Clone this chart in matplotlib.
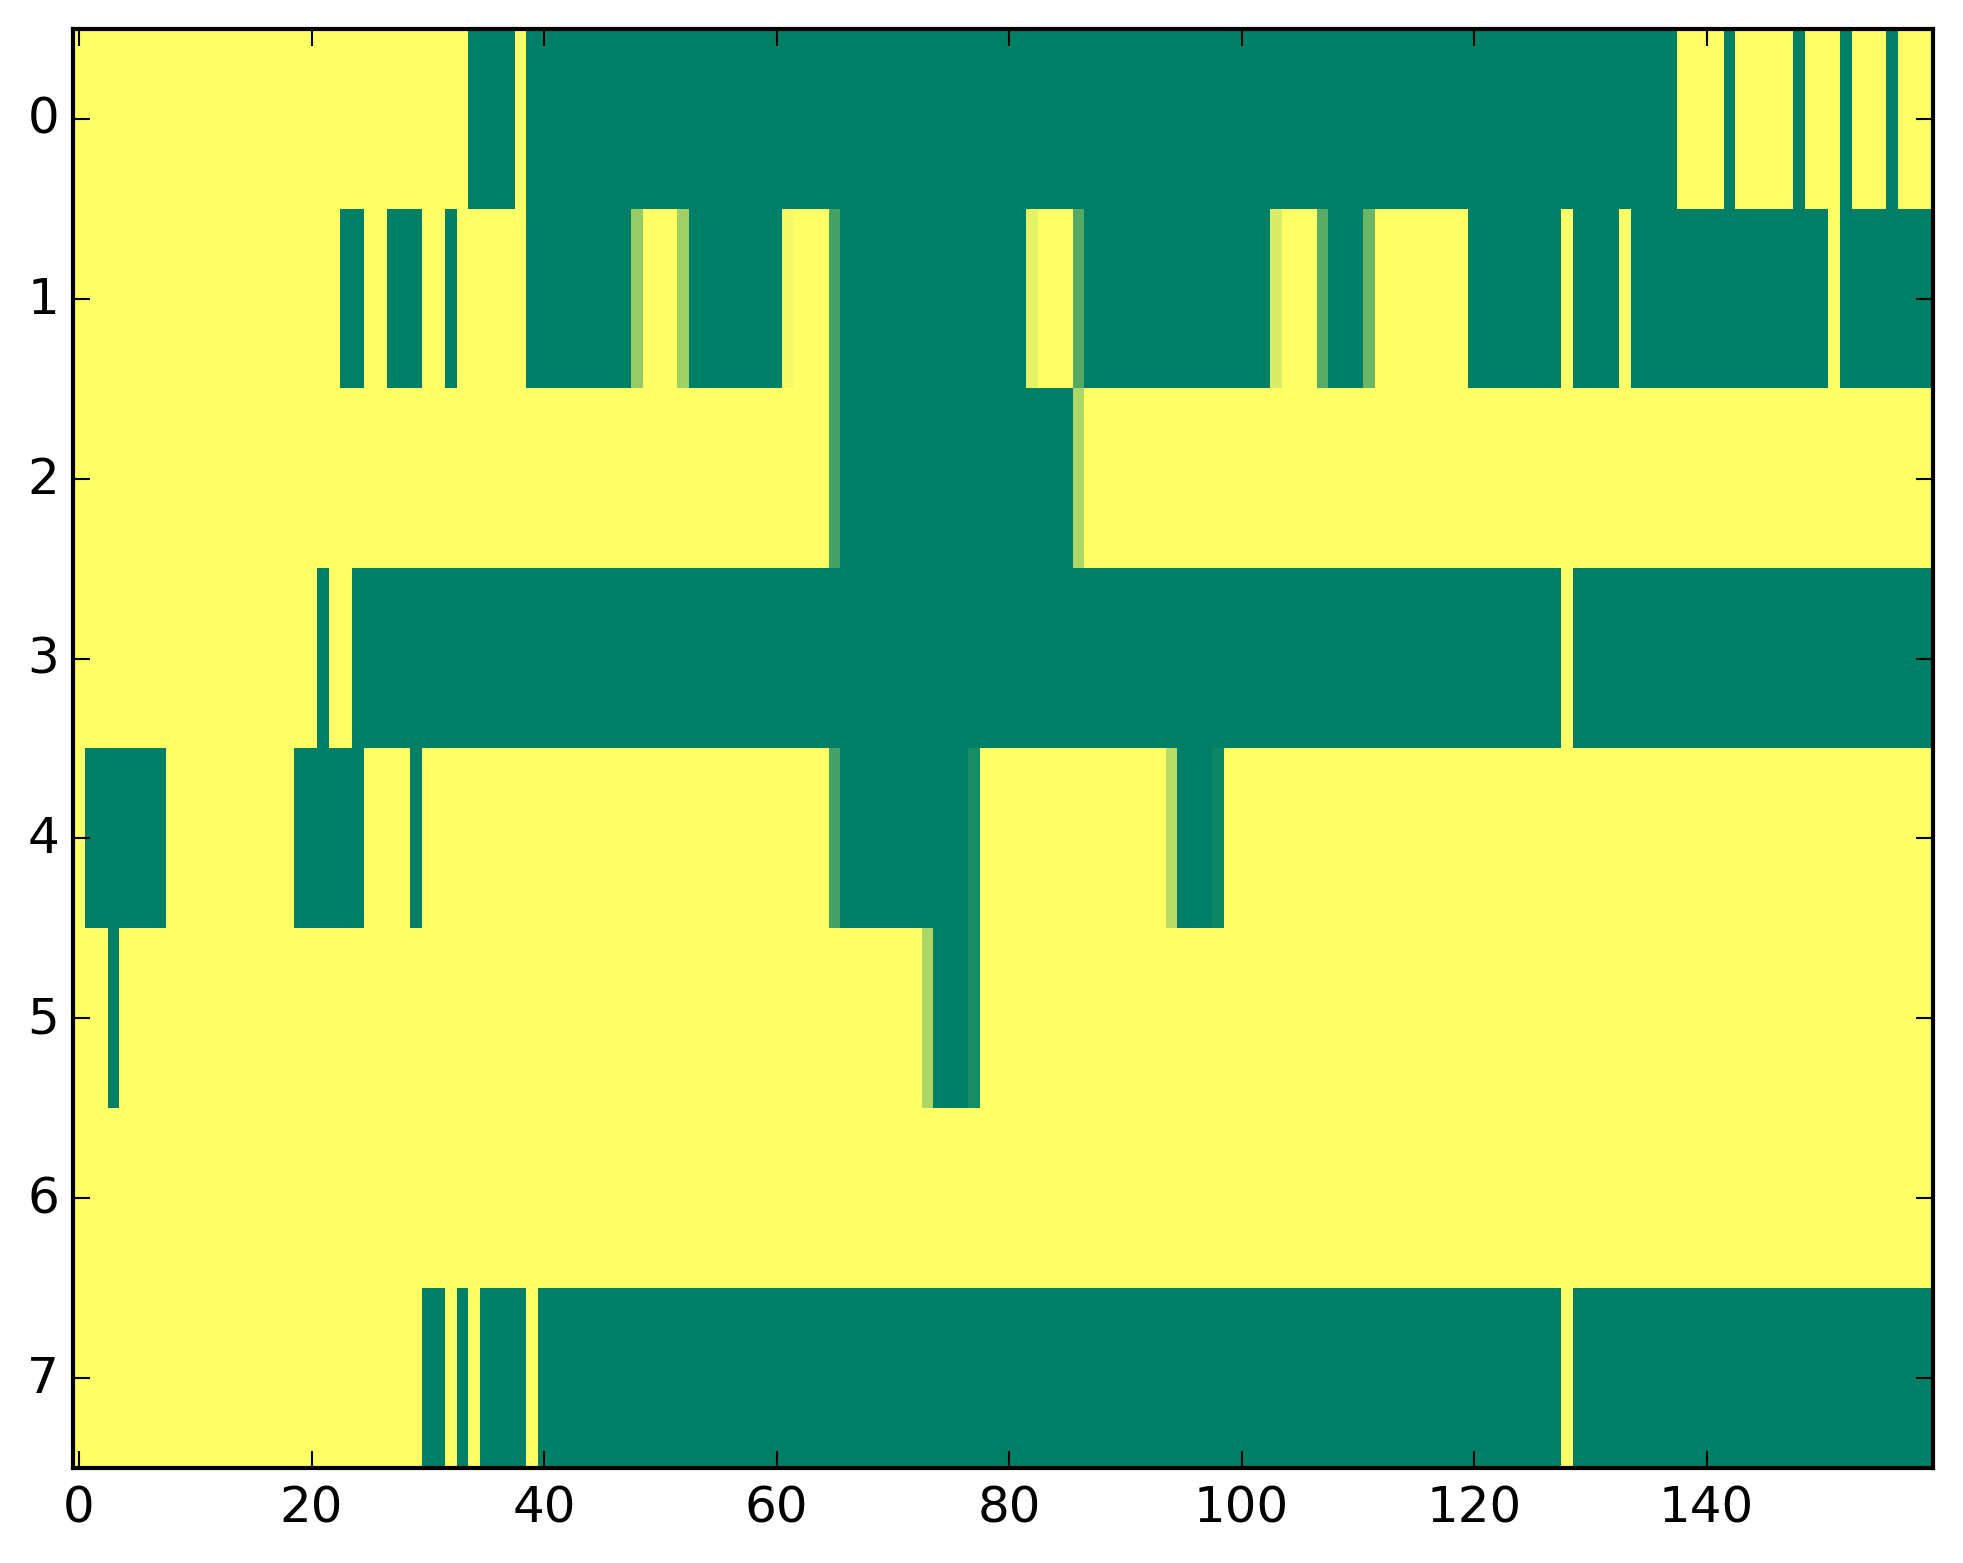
import numpy as np
import matplotlib
matplotlib.use("Agg")
import matplotlib.pyplot as plt

# each row of the heatmap as run lengths: one value, how many columns it covers
row0_values = [1, 0, 1, 0, 1, 0, 1, 0, 1, 0, 1, 0, 1]
row0_runs = [34, 4, 1, 99, 4, 1, 5, 1, 3, 1, 3, 1, 3]

row1_values = [1, 0, 1, 0, 1, 0, 1, 0, 0.59, 1, 0.63, 0, 0.96, 1, 0.27, 0, 0.90, 1, 0.33,
               0, 0.85, 1, 0.35, 0, 0.42, 1, 0, 1, 0, 1, 0, 1, 0]
row1_runs = [23, 2, 2, 3, 2, 1, 6, 9, 1, 3, 1, 8, 1, 3, 1, 16, 1, 3, 1,
             16, 1, 3, 1, 3, 1, 8, 8, 1, 4, 1, 17, 1, 8]

row2_values = [1, 0.27, 0, 0.68, 1]
row2_runs = [65, 1, 20, 1, 73]

row3_values = [1, 0, 1, 0, 1, 0]
row3_runs = [21, 1, 2, 104, 1, 31]

row4_values = [1, 0, 1, 0, 1, 0, 1, 0.27, 0, 0.10, 1, 0.73, 0, 0.06, 1]
row4_runs = [1, 7, 11, 6, 4, 1, 35, 1, 11, 1, 16, 1, 3, 1, 61]

row5_values = [1, 0, 1, 0.68, 0, 0.10, 1]
row5_runs = [3, 1, 69, 1, 3, 1, 82]

row6_values = [1]
row6_runs = [160]

row7_values = [1, 0, 1, 0, 1, 0, 1, 0, 1, 0]
row7_runs = [30, 2, 1, 1, 1, 4, 1, 88, 1, 31]

x_ticks = [0, 20, 40, 60, 80, 100, 120, 140]
y_ticks = [0, 1, 2, 3, 4, 5, 6, 7]

matrix = np.array([
    np.repeat(row0_values, row0_runs),
    np.repeat(row1_values, row1_runs),
    np.repeat(row2_values, row2_runs),
    np.repeat(row3_values, row3_runs),
    np.repeat(row4_values, row4_runs),
    np.repeat(row5_values, row5_runs),
    np.repeat(row6_values, row6_runs),
    np.repeat(row7_values, row7_runs),
])

plt.style.use("classic")
plt.rcParams["font.family"] = "DejaVu Sans"

W, H, DPI = 1963, 1564, 300
fig = plt.figure(figsize=(W / DPI, H / DPI), dpi=DPI)
ax = fig.add_axes([73.2 / W, 1 - 1469 / H, (1933.2 - 73.2) / W, (1469 - 30) / H])

ax.imshow(matrix, cmap="summer", vmin=0, vmax=1, aspect="auto", interpolation="nearest")
ax.set_xticks(x_ticks)
ax.set_yticks(y_ticks)
ax.tick_params(axis="x", pad=3.8)
ax.tick_params(axis="y", pad=3.4)

fig.savefig("out.png", dpi=DPI)
